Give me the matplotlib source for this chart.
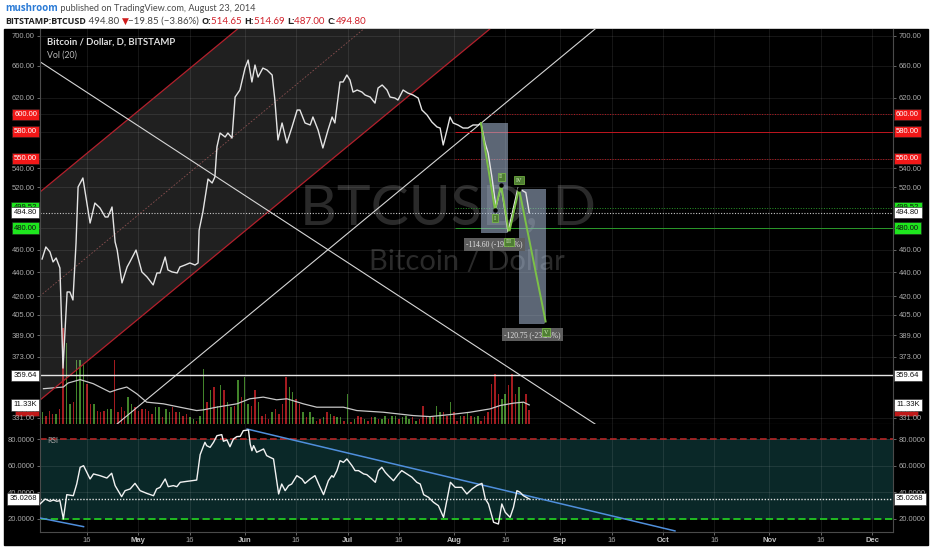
import matplotlib
matplotlib.use('Agg')
import matplotlib.pyplot as plt
import matplotlib.transforms as mtransforms
import matplotlib.patches as mpatches
from matplotlib.ticker import FuncFormatter, NullLocator
import numpy as np

# x values are days counted from 1 April 2014 (0 = Apr 1)
price_day = [1.9, 3.0, 4.2, 5.1, 6.0, 7.1, 8.0, 9.2, 10.0, 10.9, 11.8, 12.4, 13.8, 15.9, 17.3,
             18.8, 20.3, 21.1, 22.3, 23.2, 23.8, 25.2, 26.7, 27.5, 29.3, 31.0, 32.5, 34.3, 35.4,
             36.3, 37.8, 38.6, 39.8, 41.3, 42.1, 43.6, 45.0, 46.5, 47.4, 47.7, 48.8, 50.3, 51.5,
             52.3, 52.9, 53.8, 55.3, 56.1, 57.3, 58.2, 59.6, 61.1, 62.0, 63.1, 64.0, 64.9, 66.3,
             67.5, 69.0, 69.8, 70.7, 71.9, 73.3, 74.8, 76.3, 77.1, 78.6, 80.1, 80.9, 82.4, 83.8,
             85.3, 86.5, 87.3, 88.8, 89.7, 90.8, 91.7, 92.6, 93.8, 95.2, 96.1, 97.6, 99.0, 99.9,
             101.1, 102.5, 103.4, 104.8, 105.7, 107.2, 108.6, 110.1, 111.6, 112.7, 114.2, 115.6,
             117.1, 118.0, 118.9, 120.0, 120.9, 121.8, 123.2, 124.7, 126.1, 127.6, 129.1, 129.9,
             131.1, 132.0, 133.1, 134.3, 135.8, 137.8, 140.7, 143.0, 144.0]
price_close = [451.8, 462.6, 458.1, 449.2, 452.7, 443.9, 364.8, 423.5, 423.5, 416.9, 466.0, 520.3,
               529.6, 484.8, 504.2, 499.3, 490.6, 490.6, 500.3, 467.1, 459.8, 431.1, 444.8, 449.2,
               459.8, 440.5, 436.2, 429.4, 439.6, 439.6, 453.6, 442.2, 440.5, 439.6, 444.8, 446.5,
               448.3, 446.5, 448.3, 478.0, 495.4, 528.5, 524.4, 530.6, 562.8, 578.4, 573.9, 578.4,
               572.8, 620.7, 629.3, 657.0, 667.4, 639.3, 660.9, 645.5, 657.0, 654.5, 648.1, 617.1,
               570.6, 589.9, 567.2, 585.3, 605.1, 605.1, 589.9, 587.6, 596.9, 581.8, 561.7, 581.8,
               596.9, 589.9, 639.3, 639.3, 648.1, 641.8, 626.8, 629.3, 626.8, 623.2, 620.7, 613.4,
               631.8, 635.5, 629.3, 620.7, 619.5, 617.1, 629.3, 625.6, 623.2, 619.5, 605.1, 599.2,
               591.0, 585.3, 584.1, 565.0, 581.8, 596.9, 589.9, 587.6, 584.1, 584.1, 587.6, 587.6,
               589.9, 567.2, 556.2, 530.6, 500.3, 521.4, 476.4, 519.3, 514.65, 494.80]

rsi_day = [1.3, 2.8, 4.2, 5.2, 6.2, 7.1, 8.1, 9.1, 11.0, 12.0, 13.0, 14.0, 15.9, 16.9, 18.8, 20.8,
           22.2, 23.2, 25.1, 26.1, 27.6, 29.0, 30.5, 32.4, 34.4, 35.3, 36.3, 37.8, 38.7, 40.2, 41.2,
           42.2, 44.1, 45.6, 47.0, 48.0, 49.4, 49.9, 50.9, 51.9, 52.9, 54.3, 54.8, 55.8, 56.7, 57.7,
           58.7, 59.7, 60.6, 62.1, 62.6, 63.1, 63.6, 64.5, 65.5, 66.5, 67.4, 68.4, 69.4, 70.9, 71.8,
           72.8, 73.8, 74.7, 76.2, 77.7, 78.6, 80.1, 81.5, 83.0, 84.0, 85.4, 86.4, 86.9, 87.9, 88.8,
           89.8, 90.8, 92.3, 93.2, 94.2, 95.7, 96.6, 98.1, 99.1, 100.0, 101.0, 102.0, 102.9, 104.4,
           105.9, 106.8, 108.3, 109.8, 111.2, 112.2, 113.2, 114.6, 116.1, 117.5, 119.0, 121.0, 122.4,
           124.3, 125.8, 127.3, 128.7, 130.2, 131.2, 132.1, 133.6, 135.0, 136.0, 137.0, 138.4, 139.4,
           140.4, 141.3, 142.3, 144.0]
rsi_val = [31.3, 35.0, 33.3, 34.3, 33.3, 33.8, 20.0, 38.3, 37.5, 46.3, 58.9, 60.1, 50.1, 53.9, 52.6,
           50.8, 54.4, 45.1, 36.8, 41.3, 42.6, 46.8, 41.3, 39.3, 37.5, 42.6, 43.8, 50.1, 44.3, 45.1,
           44.3, 47.6, 48.3, 48.8, 49.3, 68.4, 77.7, 75.2, 73.9, 77.7, 82.7, 83.5, 78.5, 79.5, 74.4,
           80.2, 82.0, 82.2, 86.5, 87.0, 76.4, 71.4, 75.2, 70.2, 71.4, 72.7, 67.7, 66.4, 65.2, 38.8,
           46.3, 41.3, 45.1, 46.3, 52.6, 50.1, 46.8, 50.1, 52.6, 43.8, 38.3, 48.8, 52.6, 51.4, 56.4,
           63.9, 62.6, 65.2, 60.1, 56.4, 56.4, 53.9, 53.4, 50.1, 47.6, 56.4, 58.9, 55.1, 52.6, 48.8,
           53.9, 56.4, 53.9, 51.4, 47.6, 46.3, 38.3, 36.3, 32.5, 30.0, 21.2, 47.6, 43.8, 43.8, 38.8,
           42.6, 45.1, 46.8, 35.0, 31.3, 17.5, 16.2, 31.3, 25.0, 21.2, 28.8, 41.3, 40.1, 37.5, 35.03]

# daily volume in thousands of BTC, one bar per day from day 2
vol_k = [7, 5, 8, 6, 6, 9, 57, 48, 12, 13,
         38, 38, 35, 24, 12, 12, 8, 7, 8, 9,
         9, 38, 7, 10, 8, 16, 12, 10, 8, 9,
         9, 8, 6, 10, 10, 4, 9, 7, 10, 7,
         7, 5, 6, 4, 3, 2, 5, 33, 13, 20,
         22, 11, 23, 20, 13, 10, 11, 26, 16, 28,
         12, 11, 20, 13, 5, 6, 3, 7, 9, 6,
         12, 28, 22, 19, 15, 12, 7, 4, 7, 4,
         2, 3, 4, 7, 6, 5, 4, 4, 2, 18,
         1, 3, 5, 4, 3, 2, 4, 4, 3,
         3, 5, 3, 5, 5, 3, 4, 5, 3, 4,
         2, 3, 11, 5, 4, 4, 11, 7, 7, 5,
         13, 7, 2, 5, 5, 7, 5, 4, 5, 2,
         5, 7, 24, 30, 18, 15, 18, 23, 30, 18,
         22, 13, 18, 8.32]
vol_dir = ("grrrgrrggr" "gggrrgrrrg" "grrrrggrrr" "rrrggrggrr" "grrggrggrg"
           "rggrggrgrg" "grrgrrrgrr" "rrggrrgrgg" "rrgrgrggrg" "rgrrgrrgr"
           "ggrggrgggr" "grrrgrggrr" "grrgrgrggr" "rrrrrggrrr" "ggrr")
vol_day = np.arange(2, 2 + len(vol_k))

vol_ma_day = [2.3, 8.1, 9.5, 13.0, 16.8, 21.7, 23.7, 26.6, 29.5, 32.4, 37.3, 42.1, 47.0, 48.9, 52.8,
              58.7, 62.5, 66.4, 70.3, 73.3, 78.1, 82.0, 89.8, 93.7, 101.4, 110.2, 115.0, 120.9,
              126.7, 132.6, 135.5, 139.4, 142.3, 144.0]
vol_ma = [21, 22, 24.4, 26.4, 24, 19, 20.4, 22, 18, 13, 12, 10, 8, 8.4, 10, 12, 15, 16, 14.4, 15, 12,
          10, 10, 8, 7, 5, 4.4, 5.6, 7, 9, 11, 12.4, 13, 11.33]

# drawings on the price pane
chan_upper_day, chan_upper_price = [1.29, 58.9], [515.2, 709.3]
chan_lower_day, chan_lower_price = [1.29, 132.5], [342.6, 709.3]
chan_mid_day, chan_mid_price = [1.29, 95.7], [420.2, 709.3]
trend_down_day, trend_down_price = [1.29, 163.2], [665.2, 326.9]
trend_up_day, trend_up_price = [23.75, 163.2], [326.9, 709.3]

red_levels = [600, 580, 550]
red_styles = [':', '-', ':']
green_levels = [499.52, 480]
green_styles = [':', '-']
level_start = 122.4
last_price = 494.80
support_price = 359.64

wave_day = [129.9, 134.0, 135.8, 138.1, 141.0, 148.9]
wave_price = [589.8, 497.4, 522.3, 475.2, 518.7, 397.95]
wave_names = ['', 'I', 'II', 'III', 'IV', 'V']

meas_day = [(129.9, 137.8), (141.0, 148.9)]
meas_price = [(589.8, 475.2), (518.7, 397.95)]
meas_text = ['-114.60 (-19.43%)', '-120.75 (-23.28%)']

rsi_trend_day, rsi_trend_val = [61.7, 186.5], [87.7, 11.0]
rsi_trend2_day, rsi_trend2_val = [1.3, 14.0], [20.7, 14.2]
rsi_last = 35.0268

tick_days = [15, 30, 45, 61, 76, 91, 106, 122, 137, 153, 168, 183, 198, 214, 229, 244]
tick_names = ['16', 'May', '16', 'Jun', '16', 'Jul', '16', 'Aug', '16', 'Sep', '16', 'Oct',
              '16', 'Nov', '16', 'Dec']
price_ticks = [331, 373, 389, 405, 420, 440, 460, 480, 520, 540, 550, 580, 600, 620, 660, 700]
rsi_ticks = [20, 40, 60, 80]

W, H = 932, 550
fig = plt.figure(figsize=(W / 100, H / 100), dpi=100, facecolor='white')
fig.patches.append(mpatches.Rectangle((4 / W, 5 / H), 924 / W, 516 / H, transform=fig.transFigure,
                                      color='black', zorder=-5))

ax = fig.add_axes([40 / W, 1 - 424 / H, 853 / W, 395 / H])
rax = fig.add_axes([40 / W, 1 - 531.7 / H, 853 / W, 107.7 / H], sharex=ax)
vax = ax.twinx()
vax.set_zorder(-1)
ax.set_zorder(0)
ax.patch.set_visible(False)
vax.patch.set_visible(True)
vax.patch.set_facecolor('black')
rax.set_facecolor('black')

axis_col = '#4a4a4a'
label_col = '#a8a8a8'

# price pane
ax.set_yscale('log')
ax.set_xlim(1.29, 250.1)
ax.set_ylim(326.9, 709.3)
ax.set_yticks(price_ticks)
ax.yaxis.set_minor_locator(NullLocator())
ax.yaxis.set_major_formatter(FuncFormatter(lambda v, p: '%.2f' % v))
ax.set_xticks(tick_days)
ax.tick_params(axis='x', bottom=False, labelbottom=False)
ax.tick_params(axis='y', left=True, right=True, labelleft=True, labelright=True,
               length=2.5, width=0.6, color='#777777', labelcolor=label_col, pad=1.5,
               labelsize=5.5)
for lab in ax.get_yticklabels(which='both'):
    lab.set_family('Liberation Sans')
ax.grid(True, color='white', alpha=0.09, lw=0.7)
ax.set_axisbelow(True)
ax.spines['top'].set_visible(False)
for s in ['left', 'right', 'bottom']:
    ax.spines[s].set_color(axis_col)
    ax.spines[s].set_linewidth(0.8)

# watermark + volume behind the price pane
vax.text(0.478, 0.545, 'BTCUSD, D', transform=vax.transAxes, ha='center', va='center',
         fontsize=41, family='Lato', color='#2a2a2a', zorder=0)
vax.text(0.5, 0.41, 'Bitcoin / Dollar', transform=vax.transAxes, ha='center', va='center',
         fontsize=21, family='Lato', color='#2a2a2a', zorder=0)
vol_colors = ['#a31b1f' if c == 'r' else '#42842a' for c in vol_dir]
vax.bar(vol_day, vol_k, width=0.45, color=vol_colors, zorder=1)
vax.plot(vol_ma_day, vol_ma, color='#c8c8c8', lw=0.9, zorder=2)
vax.set_ylim(0, 235)
vax.set_yticks([])
for s in vax.spines.values():
    s.set_visible(False)

# channel
ax.fill(chan_upper_day + chan_lower_day[::-1], chan_upper_price + chan_lower_price[::-1],
        color='white', alpha=0.13, lw=0, zorder=1)
ax.plot(chan_upper_day, chan_upper_price, color='#b3202c', lw=0.9, zorder=2)
ax.plot(chan_lower_day, chan_lower_price, color='#b3202c', lw=0.9, zorder=2)
ax.plot(chan_mid_day, chan_mid_price, color='#8a5050', lw=0.6, ls=(0, (2, 2)), zorder=2)
ax.plot(trend_down_day, trend_down_price, color='#d6d6d6', lw=0.8, zorder=2)
ax.plot(trend_up_day, trend_up_price, color='#d6d6d6', lw=0.8, zorder=2)

# horizontal levels
for lv, ls in zip(red_levels, red_styles):
    ax.hlines(lv, level_start, 250.1, color='#c0161f', lw=0.7, ls=ls, zorder=2)
for lv, ls in zip(green_levels, green_styles):
    ax.hlines(lv, level_start, 250.1, color='#2a9a2a', lw=0.7, ls=ls, zorder=2)
ax.axhline(last_price, color='#c8c8c8', lw=0.8, ls=(0, (1, 1.5)), zorder=2)
ax.axhline(support_price, color='#e6e6e6', lw=1.0, zorder=2)

# measurement boxes
for (d0, d1), (p0, p1), txt in zip(meas_day, meas_price, meas_text):
    ax.fill_between([d0, d1], p1, p0, color='#a9bcd6', alpha=0.55, lw=0, zorder=3)
    ax.annotate(txt, xy=((d0 + d1) / 2, p1), xytext=(0, -8), textcoords='offset points',
                ha='center', va='center', fontsize=5.5, family='Liberation Serif',
                color='#e4e4e4', zorder=6,
                bbox=dict(boxstyle='square,pad=0.35', fc='#5d5d5d', ec='none'))

# price line
ax.plot(price_day, price_close, color='#e4e4e4', lw=1.0, zorder=4)

# elliott wave
ax.plot(wave_day, wave_price, color='#7cc246', lw=1.4, zorder=5)
ax.plot(wave_day[1:], wave_price[1:], 'o', ms=2.2, color='black', zorder=6)
for i in range(1, len(wave_day)):
    up = wave_price[i] > wave_price[i - 1]
    ax.annotate(wave_names[i], xy=(wave_day[i], wave_price[i]), xytext=(0, 6 if up else -6),
                textcoords='offset points', ha='center', va='center', fontsize=4.5,
                family='Liberation Serif', color='#d8f0c0', zorder=7,
                bbox=dict(boxstyle='square,pad=0.25', fc='#4f7d34', ec='#7cc246', lw=0.5))

ax.text(0.008, 0.977, 'Bitcoin / Dollar, D, BITSTAMP', transform=ax.transAxes, ha='left',
        va='top', fontsize=6.8, family='Lato', fontweight='bold', color='#e0e0e0')
ax.text(0.008, 0.945, 'Vol (20)', transform=ax.transAxes, ha='left', va='top', fontsize=6.3,
        family='Lato', color='#b8b8b8')


def side_boxes(axis, y, text, fc, tc, zo):
    trans = mtransforms.blended_transform_factory(axis.transAxes, axis.transData)
    for xpos, ha in ((-0.0035, 'right'), (1.0035, 'left')):
        axis.text(xpos, y, text, transform=trans, ha=ha, va='center', color=tc, clip_on=False,
                  fontsize=5.5, family='Liberation Sans', zorder=zo,
                  bbox=dict(boxstyle='square,pad=0.3', fc=fc, ec='#222222', lw=0.4))


for lv in red_levels:
    side_boxes(ax, lv, '%.2f' % lv, '#f21818', 'white', 10)
side_boxes(ax, green_levels[0], '%.2f' % green_levels[0], '#1ee61e', '#111111', 10)
side_boxes(ax, green_levels[1], '%.2f' % green_levels[1], '#1ee61e', '#111111', 10)
side_boxes(ax, last_price, '%.2f' % last_price, 'white', '#111111', 11)
side_boxes(ax, support_price, '%.2f' % support_price, 'white', '#111111', 11)
side_boxes(vax, vol_k[-1], '%.2fK' % vol_k[-1], '#c01818', '#f0d0d0', 10)
side_boxes(vax, vol_ma[-1], '%.2fK' % vol_ma[-1], 'white', '#111111', 11)

# RSI pane
rax.set_ylim(10.4, 91.5)
rax.axhspan(20, 80, color='#0a2828', lw=0, zorder=0)
rax.set_yticks(rsi_ticks)
rax.yaxis.set_major_formatter(FuncFormatter(lambda v, p: '%.4f' % v))
rax.grid(True, color='white', alpha=0.09, lw=0.7)
rax.set_axisbelow(True)
rax.axhline(80, color='#b52626', lw=1.2, ls=(0, (4, 2)), zorder=2)
rax.axhline(20, color='#22c822', lw=1.3, ls=(0, (4, 2)), zorder=2)
rax.axhline(rsi_last, color='#e0e0e0', lw=1.0, ls=(0, (1, 1.2)), zorder=2)
rax.plot(rsi_trend_day, rsi_trend_val, color='#4f8fdc', lw=1.1, zorder=3)
rax.plot(rsi_trend2_day, rsi_trend2_val, color='#4f8fdc', lw=1.1, zorder=3)
rax.plot(rsi_day, rsi_val, color='#f2f2f2', lw=1.0, zorder=4)
rax.text(0.008, 0.88, 'RSI', transform=rax.transAxes, ha='left', va='top', fontsize=5.5,
         family='Lato', color='#a0a0a0')
rax.set_xticks(tick_days)
rax.set_xticklabels(tick_names)
rax.tick_params(axis='x', length=2, width=0.6, color='#777777', labelcolor=label_col,
                labelsize=5.5, pad=2)
rax.tick_params(axis='y', left=True, right=True, labelleft=True, labelright=True,
                length=2.5, width=0.6, color='#777777', labelcolor=label_col, pad=1.5,
                labelsize=5.5)
for lab in rax.get_xticklabels() + rax.get_yticklabels():
    lab.set_family('Liberation Sans')
for lab in rax.get_xticklabels():
    if lab.get_text() != '16':
        lab.set_fontweight('bold')
        lab.set_color('#c0c0c0')
rax.spines['top'].set_visible(False)
for s in ['left', 'right', 'bottom']:
    rax.spines[s].set_color(axis_col)
    rax.spines[s].set_linewidth(0.8)
side_boxes(rax, rsi_last, '%.4f' % rsi_last, 'white', '#111111', 11)

# header
renderer = fig.canvas.get_renderer()


def write_row(parts, x_px, y_px):
    x = x_px
    for s, color, weight, size in parts:
        fam = ['Open Sans', 'DejaVu Sans'] if weight == 'bold' else ['Lato', 'DejaVu Sans']
        t = fig.text(x / W, 1 - y_px / H, s, color=color, fontsize=size, fontweight=weight,
                     family=fam, va='baseline')
        x = t.get_window_extent(renderer).x1


write_row([('mushroom', '#2b7bd6', 'bold', 7),
           (' published on TradingView.com, August 23, 2014', '#4a4a4a', 'normal', 6.6)], 5, 11)
write_row([('BITSTAMP:BTCUSD', '#222222', 'bold', 6.5), (' 494.80 ', '#444444', 'normal', 7),
           ('\u25bc', '#d01c1c', 'normal', 6.5),
           ('\u221219.85 (\u22123.86%) ', '#444444', 'normal', 7),
           ('O:', '#222222', 'bold', 6.5), ('514.65 ', '#d0202a', 'normal', 7),
           ('H:', '#222222', 'bold', 6.5), ('514.69 ', '#d0202a', 'normal', 7),
           ('L:', '#222222', 'bold', 6.5), ('487.00 ', '#d0202a', 'normal', 7),
           ('C:', '#222222', 'bold', 6.5), ('494.80', '#d0202a', 'normal', 7)], 5, 24)

fig.savefig('out.png', dpi=100, facecolor=fig.get_facecolor())
